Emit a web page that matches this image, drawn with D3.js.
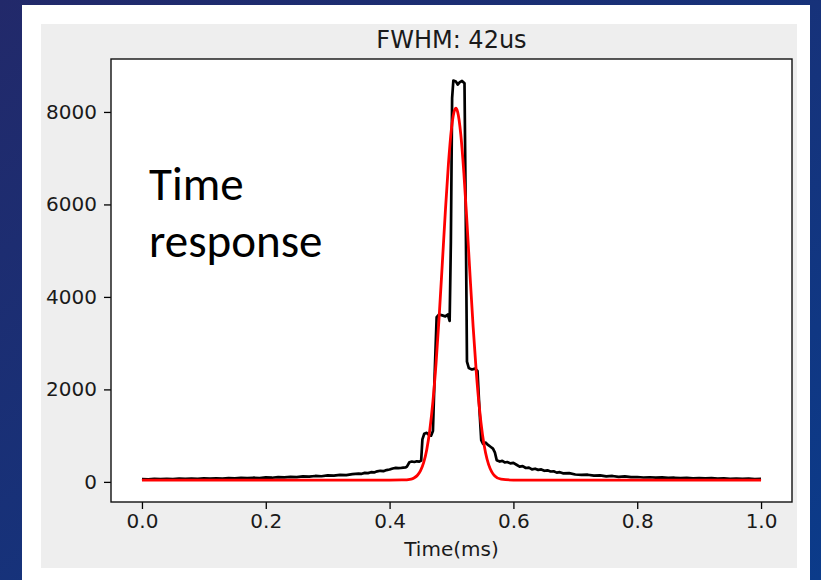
<!DOCTYPE html>
<html>
<head>
<meta charset="utf-8">
<script src="https://cdnjs.cloudflare.com/ajax/libs/d3/7.8.5/d3.min.js"></script>
<style>
  body { margin: 0; padding: 0; background: #14306e; }
  svg { display: block; }
</style>
</head>
<body>
<div id="my_dataviz"></div>
<script>
// measured signal (black)
var timeMeas = [0.000, 0.010, 0.020, 0.030, 0.040, 0.050, 0.060, 0.070, 0.080, 0.090,
  0.100, 0.110, 0.120, 0.130, 0.140, 0.150, 0.160, 0.170, 0.180, 0.190,
  0.200, 0.210, 0.220, 0.230, 0.240, 0.250, 0.260, 0.270, 0.280, 0.290,
  0.300, 0.310, 0.320, 0.330, 0.340, 0.350, 0.355, 0.360, 0.365, 0.370,
  0.375, 0.380, 0.385, 0.390, 0.395, 0.400, 0.405, 0.410, 0.414, 0.418,
  0.422, 0.426, 0.428, 0.432, 0.436, 0.440, 0.444, 0.448, 0.451, 0.453,
  0.456, 0.460, 0.464, 0.467, 0.470, 0.473, 0.476, 0.480, 0.485, 0.490,
  0.494, 0.497, 0.499, 0.501, 0.503, 0.507, 0.510, 0.513, 0.517, 0.521,
  0.523, 0.525, 0.528, 0.533, 0.538, 0.542, 0.545, 0.548, 0.551, 0.555,
  0.559, 0.563, 0.567, 0.570, 0.573, 0.578, 0.582, 0.586, 0.590, 0.595,
  0.600, 0.605, 0.610, 0.615, 0.620, 0.625, 0.630, 0.635, 0.640, 0.645,
  0.650, 0.655, 0.660, 0.665, 0.670, 0.675, 0.680, 0.690, 0.700, 0.710,
  0.720, 0.730, 0.740, 0.750, 0.760, 0.770, 0.780, 0.790, 0.800, 0.810,
  0.820, 0.830, 0.840, 0.850, 0.860, 0.870, 0.880, 0.890, 0.900, 0.910,
  0.920, 0.930, 0.940, 0.950, 0.960, 0.970, 0.980, 0.990, 1.000]
var countMeas = [62, 55, 64, 58, 66, 60, 70, 63, 72, 66,
  76, 70, 78, 72, 82, 76, 85, 80, 90, 84,
  96, 90, 102, 98, 110, 104, 118, 112, 128, 122,
  140, 134, 152, 148, 168, 180, 175, 195, 190, 210,
  205, 228, 240, 232, 255, 268, 290, 302, 296, 300,
  308, 312, 330, 425, 440, 430, 445, 438, 460, 920,
  1040, 1060, 1010, 1000, 1100, 2400, 3560, 3620, 3600, 3580,
  3620, 3480, 5200, 8300, 8680, 8660, 8590, 8640, 8670, 8620,
  5800, 2600, 2460, 2430, 2450, 2400, 1600, 900, 820, 850,
  800, 760, 720, 640, 470, 440, 455, 420, 430, 400,
  410, 370, 330, 340, 300, 310, 270, 285, 260, 270,
  240, 250, 225, 230, 200, 210, 185, 190, 160, 150,
  155, 135, 140, 120, 128, 110, 118, 102, 106, 95,
  100, 92, 98, 86, 90, 82, 88, 78, 82, 74,
  80, 70, 76, 68, 72, 64, 70, 62, 66]

// gaussian fit (red)
var timeFit = [0.000, 0.400, 0.420, 0.435, 0.440, 0.445, 0.450, 0.455, 0.460, 0.465,
  0.470, 0.475, 0.480, 0.485, 0.490, 0.495, 0.500, 0.505, 0.507, 0.510,
  0.515, 0.520, 0.525, 0.530, 0.535, 0.540, 0.545, 0.550, 0.555, 0.560,
  0.565, 0.570, 0.580, 0.600, 1.000]
var countFit = [40, 40, 42, 62, 90, 143, 242, 415, 697, 1128,
  1743, 2557, 3558, 4685, 5834, 6868, 7646, 8043, 8080, 7998,
  7517, 6678, 5609, 4453, 3345, 2379, 1604, 1028, 630, 373,
  218, 129, 59, 40, 40]

var xTicks = [0.0, 0.2, 0.4, 0.6, 0.8, 1.0]
var yTicks = [0, 2000, 4000, 6000, 8000]

var W = 821, H = 580
var margin = { top: 59, right: 29, bottom: 78, left: 111 },
  width = W - margin.left - margin.right,
  height = H - margin.top - margin.bottom

var svg = d3.select("#my_dataviz")
  .append("svg")
  .attr("width", W)
  .attr("height", H)

// slide background
var grad = svg.append("defs").append("linearGradient")
  .attr("id", "bg")
  .attr("x1", "0").attr("y1", "0").attr("x2", "1").attr("y2", "1")
grad.append("stop").attr("offset", "0%").attr("stop-color", "#22296a")
grad.append("stop").attr("offset", "100%").attr("stop-color", "#0b3b8a")
svg.append("rect").attr("width", W).attr("height", H).attr("fill", "url(#bg)")

// white box + matplotlib figure face
svg.append("rect")
  .attr("x", 22).attr("y", 5).attr("width", 788).attr("height", 600)
  .attr("fill", "#ffffff")
svg.append("rect")
  .attr("x", 41).attr("y", 24).attr("width", 756).attr("height", 544)
  .attr("fill", "#eeeeee")

var g = svg.append("g")
  .attr("transform", "translate(" + margin.left + "," + margin.top + ")")

g.append("rect")
  .attr("width", width).attr("height", height)
  .attr("fill", "#ffffff")

var x = d3.scaleLinear()
  .domain([-0.05, 1.05])
  .range([0, width])
var y = d3.scaleLinear()
  .domain([-435, 9145])
  .range([height, 0])

var xAxis = g.append("g")
  .attr("transform", "translate(0," + height + ")")
  .call(d3.axisBottom(x).tickValues(xTicks).tickFormat(d3.format(".1f")).tickSize(7).tickPadding(5))
var yAxis = g.append("g")
  .call(d3.axisLeft(y).tickValues(yTicks).tickFormat(d3.format("d")).tickSize(7).tickPadding(7))

;[xAxis, yAxis].forEach(function(a) {
  a.select(".domain").remove()
  a.selectAll("line").attr("stroke", "#000").attr("stroke-width", 1.3)
  a.selectAll("text")
    .attr("fill", "#1a1a1a")
    .style("font-family", "'DejaVu Sans', sans-serif")
    .style("font-size", "20px")
})

// lines
var line = d3.line()
  .x(function(d) { return x(d[0]) })
  .y(function(d) { return y(d[1]) })

g.append("path")
  .datum(d3.zip(timeMeas, countMeas))
  .attr("fill", "none")
  .attr("stroke", "#000")
  .attr("stroke-width", 2.7)
  .attr("stroke-linejoin", "round")
  .attr("d", line)

g.append("path")
  .datum(d3.zip(timeFit, countFit))
  .attr("fill", "none")
  .attr("stroke", "#ff0000")
  .attr("stroke-width", 2.8)
  .attr("stroke-linejoin", "round")
  .attr("d", line.curve(d3.curveMonotoneX))

// axes frame
g.append("rect")
  .attr("width", width).attr("height", height)
  .attr("fill", "none")
  .attr("stroke", "#111")
  .attr("stroke-width", 1.4)

// titles
g.append("text")
  .attr("x", width / 2).attr("y", 48 - margin.top)
  .attr("text-anchor", "middle")
  .attr("fill", "#1a1a1a")
  .style("font-family", "'DejaVu Sans', sans-serif")
  .style("font-size", "24px")
  .text("FWHM: 42us")

g.append("text")
  .attr("x", width / 2).attr("y", 556 - margin.top)
  .attr("text-anchor", "middle")
  .attr("fill", "#1a1a1a")
  .style("font-family", "'DejaVu Sans', sans-serif")
  .style("font-size", "20px")
  .text("Time(ms)")

// slide annotation
var note = svg.append("text")
  .attr("fill", "#000")
  .style("font-family", "Carlito, Calibri, 'Open Sans', sans-serif")
  .style("font-size", "47px")
note.append("tspan").attr("x", 149).attr("y", 200).text("Time")
note.append("tspan").attr("x", 149).attr("y", 257).text("response")
</script>
</body>
</html>
